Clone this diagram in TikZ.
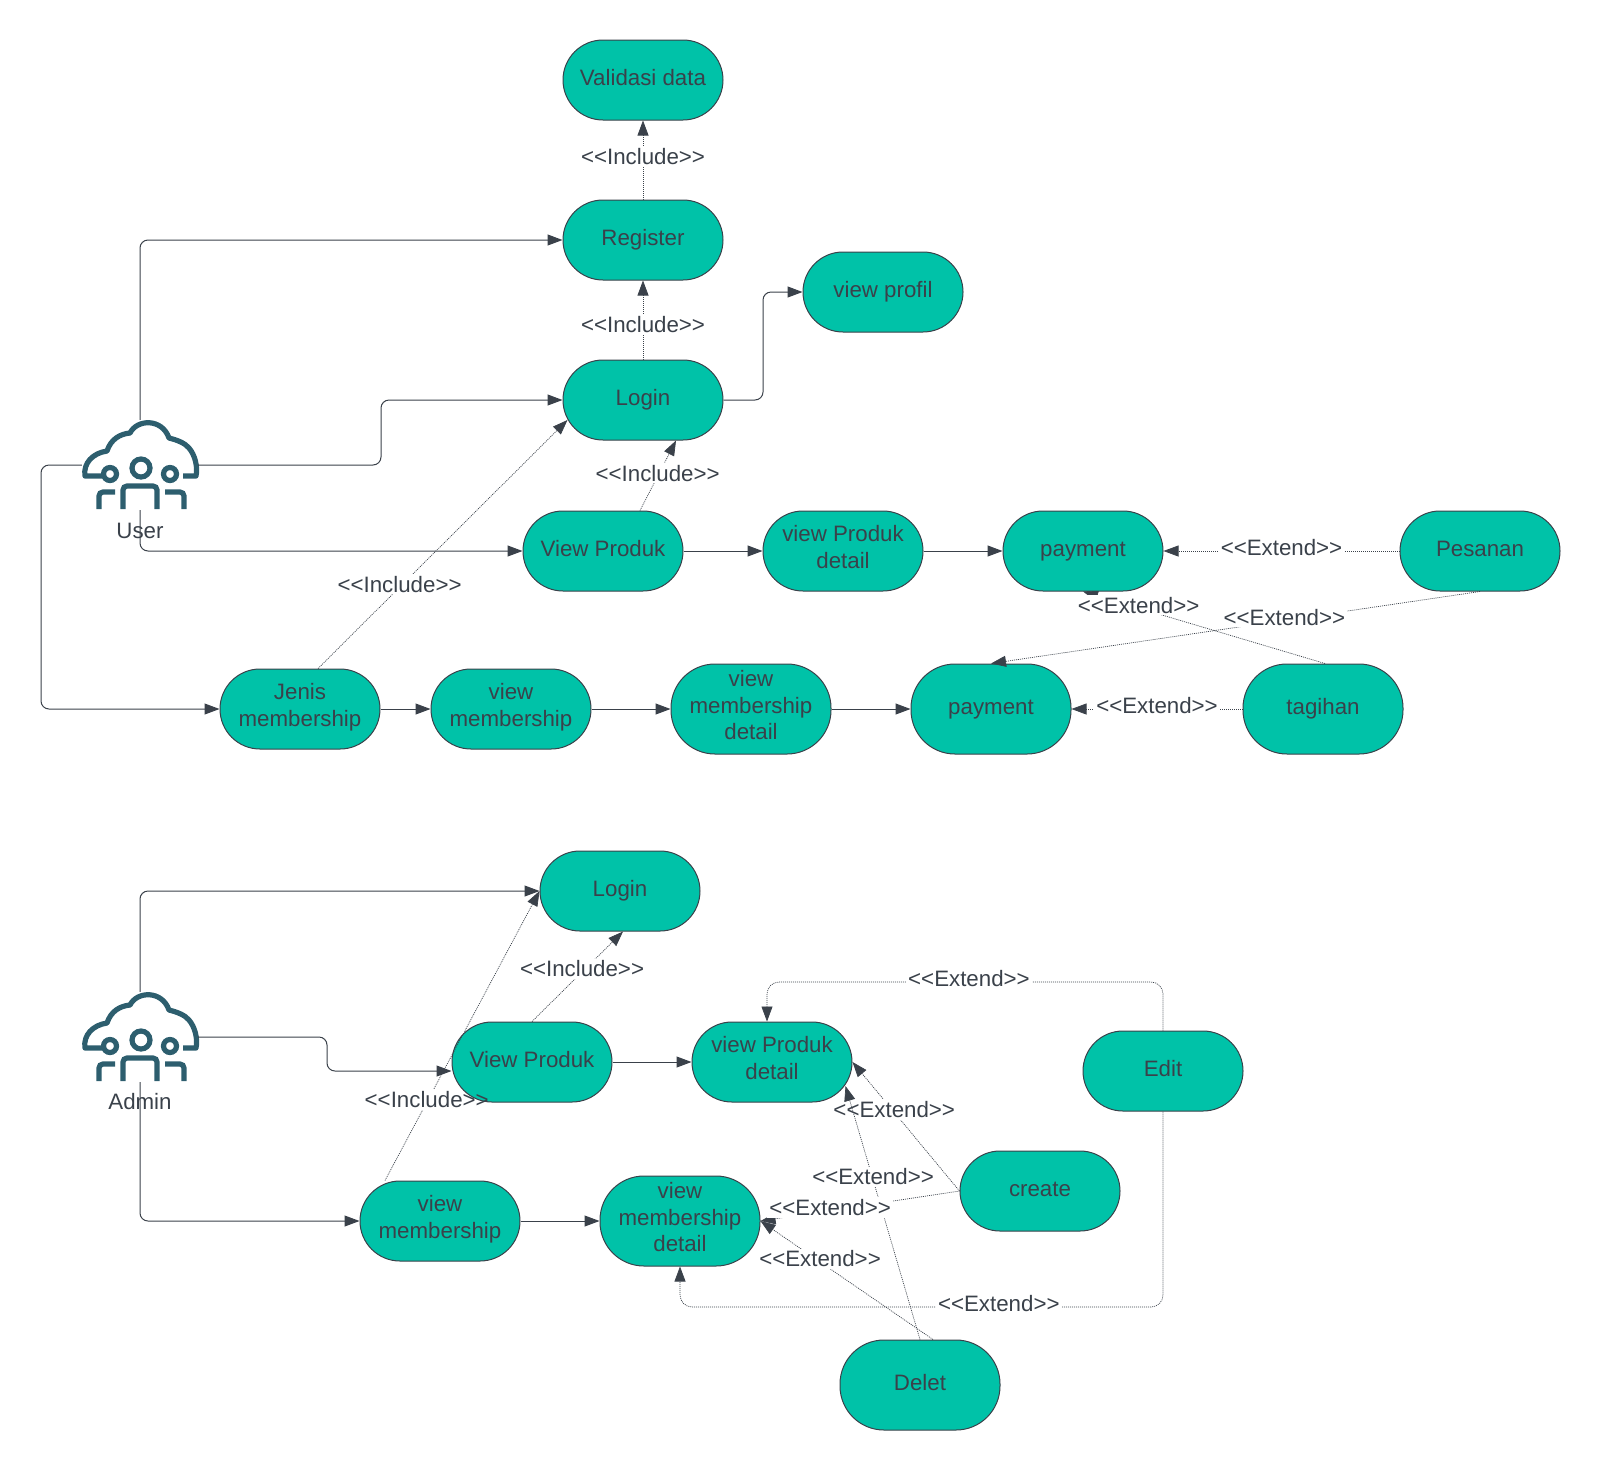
\documentclass[tikz,border=0pt]{standalone}
\usepackage{fontspec}
\setmainfont{Liberation Sans}[Ligatures=TeXOff]
\usetikzlibrary{arrows.meta,backgrounds}
\definecolor{caseteal}{HTML}{00C2A8}
\definecolor{inkgrey}{HTML}{3A414A}
\definecolor{iconblue}{HTML}{2D5E6E}
\tikzset{
  crowd/.pic={
    \draw[iconblue,line width=5.2pt,line join=round]
      (-38,11) -- (-55,11) .. controls (-57,-2) and (-47,-12) .. (-33,-14)
      .. controls (-29,-26) and (-20,-31) .. (-10,-32)
      .. controls (-3,-46) and (22,-47) .. (29,-27)
      .. controls (37,-25) and (45,-22) .. (49,-17)
      .. controls (55,-10) and (58,2) .. (56,11) -- (43,11);
    \draw[iconblue,line width=5.2pt] (1,3) circle (9) (-30,9) circle (6.5) (30,9) circle (6.5);
    \draw[iconblue,line width=5.2pt,rounded corners=4pt]
      (-17,44) -- (-17,21) -- (17,21) -- (17,44)
      (-41,44) -- (-41,27) -- (-25,27)
      (25,27) -- (44,27) -- (44,44);
  }
}
\begin{document}
\begin{tikzpicture}[x=1pt,y=-1pt,font=\fontsize{22.3}{26.7}\selectfont,text=inkgrey]
  \tikzstyle{case}=[rectangle,draw=inkgrey,line width=1pt,fill=caseteal,rounded corners=40pt,
    minimum width=160pt,minimum height=80pt,align=center,inner sep=0pt,
    execute at begin node=\strut,execute at end node=\strut]
  \tikzstyle{tall}=[case,minimum height=90pt,rounded corners=44pt]
  \tikzstyle{who}=[rectangle,minimum width=116pt,minimum height=90pt,inner sep=0pt]
  \tikzstyle{flow}=[draw=inkgrey,line width=1pt,rounded corners=8pt,-{Triangle[length=15pt,width=11pt]}]
  \tikzstyle{dep}=[draw=inkgrey,line width=.7pt,dash pattern=on 1pt off 1pt,rounded corners=12pt,
    -{Triangle[length=15pt,width=11pt,fill=inkgrey]}]
  \tikzstyle{tag}=[fill=white,inner sep=2pt,yshift=3pt,rounded corners=0pt,text=inkgrey]
  \tikzstyle{slim}=[inner xsep=-32pt]
  \useasboundingbox (0,0) rectangle (1600,1470);

  % user side
  \node [who] (user) at (140,465) {};
  \pic at (140,465) {crowd};
  \node (userlabel) at (140,531) {User};
  \node [case] (valid) at (643,80) {Validasi data};
  \node [case] (reg) at (643,240) {Register};
  \node [case] (login) at (643,400) {Login};
  \node [case] (profil) at (883,292) {view profil};
  \node [case] (vp) at (603,551) {View Produk};
  \node [case] (vpd) at (843,551) {view Produk\\detail};
  \node [case] (pay) at (1083,551) {payment};
  \node [case] (pesan) at (1480,551) {Pesanan};
  \node [case] (jenis) at (300,709) {Jenis\\membership};
  \node [case] (vm) at (511,709) {view\\membership};
  \node [tall] (vmd) at (751,709) {view\\membership\\detail};
  \node [tall] (pay2) at (991,709) {payment};
  \node [tall] (tagih) at (1323,709) {tagihan};

  \path[flow] (user.north) |- (reg.west);
  \path[flow] (user.east) -- (381,465) -- (381,400) -- (login.west);
  \path[flow] (user.south) |- (vp.west);
  \path[flow] (user.west) -- (41,465) |- (jenis.west);
  \path[flow] (login.east) -- (763,400) -- (763,292) -- (profil.west);
  \path[flow] (vp) -- (vpd);
  \path[flow] (vpd) -- (pay);
  \path[flow] (jenis) -- (vm);
  \path[flow] (vm) -- (vmd);
  \path[flow] (vmd) -- (pay2);

  \path[dep] (reg.north) -- node[tag,pos=.5] {<<Include>>} (valid.south);
  \path[dep] (login.north) -- node[tag,pos=.4] {<<Include>>} (reg.south);
  \path[dep] ([xshift=37pt]vp.north) -- node[tag,pos=.49] {<<Include>>} ([xshift=33pt]login.south);
  \path[dep] ([xshift=18pt]jenis.north) -- node[tag,pos=.327] {<<Include>>} ([xshift=5pt,yshift=-20pt]login.west);
  \path[dep] (pesan.west) -- node[tag,pos=.5] {<<Extend>>} (pay.east);
  \path[dep] (pesan.south) -- node[tag,pos=.4] {<<Extend>>} (pay2.north);
  \path[dep] (tagih.west) -- node[tag,pos=.5] {<<Extend>>} (pay2.east);
  \begin{pgfonlayer}{background}
    \path[dep] ([xshift=2pt]tagih.north) -- node[tag,pos=.77] {<<Extend>>} (pay.south);
  \end{pgfonlayer}

  % admin side
  \node [who] (admin) at (140,1037) {};
  \pic at (140,1037) {crowd};
  \node (adminlabel) at (140,1102) {Admin};
  \node [case] (loginb) at (620,891) {Login};
  \node [case] (vpb) at (532,1062) {View Produk};
  \node [case] (vpdb) at (772,1062) {view Produk\\detail};
  \node [case] (edit) at (1163,1071) {Edit};
  \node [case] (create) at (1040,1191) {create};
  \node [case] (vmb) at (440,1221) {view\\membership};
  \node [tall] (vmdb) at (680,1221) {view\\membership\\detail};
  \node [tall] (delet) at (920,1385) {Delet};

  \path[flow] (admin.north) |- (loginb.west);
  \path[flow] (admin.east) -- (327,1037) -- (327,1071) -- ([yshift=-9pt]vpb.west);
  \path[flow] (admin.south) |- (vmb.west);
  \path[flow] (vpb) -- (vpdb);
  \path[flow] (vmb) -- (vmdb);

  \path[dep] ([xshift=-55pt]vmb.north) -- node[tag,slim,pos=.27] {<<Include>>} (loginb.west);
  \path[dep] (vpb.north) -- node[tag,pos=.55] {<<Include>>} ([xshift=3pt]loginb.south);
  \path[dep] (delet.north) -- node[tag,pos=.63] {<<Extend>>} ([xshift=-7pt,yshift=-24pt]vpdb.east);
  \path[dep] ([xshift=13pt]delet.north) -- node[tag,slim,pos=.655] {<<Extend>>} (vmdb.east);
  \path[dep] (create.west) -- node[tag,slim,pos=.61] {<<Extend>>} (vpdb.east);
  \path[dep] (create.west) -- node[tag,pos=.65] {<<Extend>>} (vmdb.east);
  \path[dep] (edit.north) -- (1163,982) -- node[tag,pos=.49] {<<Extend>>} (767,982) -- ([xshift=-5pt]vpdb.north);
  \path[dep] (edit.south) -- (1163,1307) -- node[tag,pos=.34] {<<Extend>>} (680,1307) -- (vmdb.south);
\end{tikzpicture}
\end{document}
